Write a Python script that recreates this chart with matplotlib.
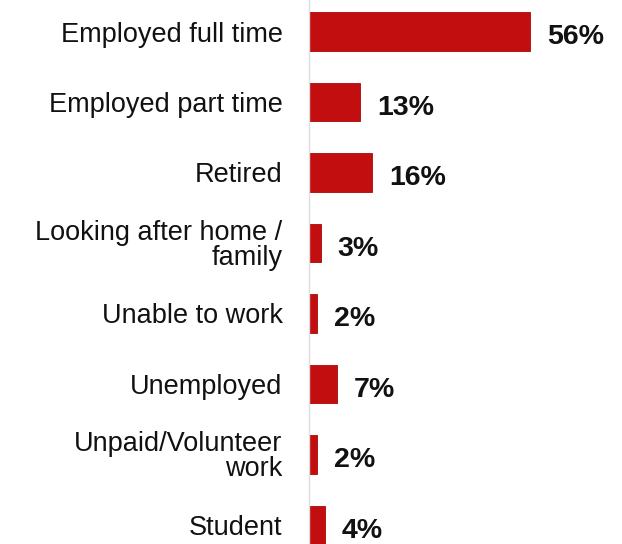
import matplotlib.pyplot as plt

# Datos
categorias = ['Employed full time', 'Employed part time', 'Retired',
              'Looking after home /\nfamily', 'Unable to work', 'Unemployed',
              'Unpaid/Volunteer\nwork', 'Student']
porcentajes = [56, 13, 16, 3, 2, 7, 2, 4]
etiquetas = ['56%', '13%', '16%', '3%', '2%', '7%', '2%', '4%']

plt.rcParams['font.family'] = ['Liberation Sans', 'DejaVu Sans']

fig = plt.figure(figsize=(6.22, 5.44), dpi=100)
ax = fig.add_axes([309 / 622, 0, 313 / 622, 1])

pos = list(range(len(categorias)))
ax.barh(pos, porcentajes, height=0.55, color='#C20E0E', edgecolor='#A80808', linewidth=0.6)

for y, v, t in zip(pos, porcentajes, etiquetas):
    ax.annotate(t, (v, y), xytext=(12, -4), textcoords='offset points',
                ha='left', va='center', fontsize=20.5, fontweight='bold', color='#111111')

ax.set_xlim(0, 79.2)
ax.set_ylim(7.27, -0.447)
ax.set_yticks(pos)
ax.set_yticklabels(categorias, fontsize=19.5, color='#111111', linespacing=0.95)
ax.tick_params(axis='y', length=0, pad=19)
ax.set_xticks([])

for s in ['top', 'right', 'bottom']:
    ax.spines[s].set_visible(False)
ax.spines['left'].set_color('#dddddd')
ax.spines['left'].set_linewidth(1)

fig.savefig('out.png', dpi=100)
